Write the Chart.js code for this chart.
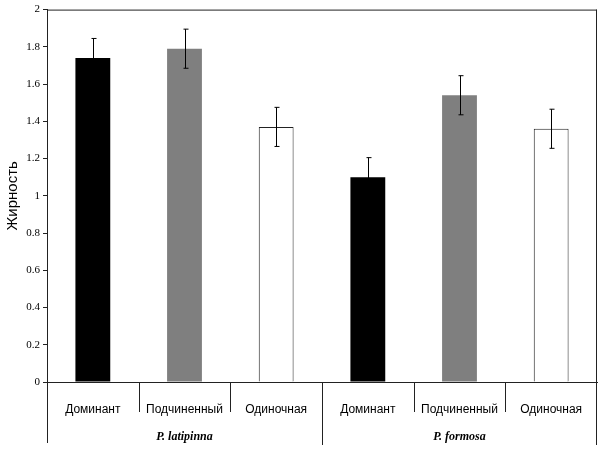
<!DOCTYPE html>
<html>
<head>
<meta charset="utf-8">
<script src="https://cdn.jsdelivr.net/npm/chart.js@4/dist/chart.umd.min.js"></script>
<style>
  html, body { margin: 0; padding: 0; background: #fff; }
  canvas { display: block; }
</style>
</head>
<body>
<canvas id="fatChart" width="600" height="449"></canvas>
<script>
// Data
const categories = ['Доминант', 'Подчиненный', 'Одиночная', 'Доминант', 'Подчиненный', 'Одиночная'];
const groups = ['P. latipinna', 'P. formosa'];
const fatValues = [1.74, 1.79, 1.37, 1.10, 1.54, 1.36];
const fatErrors = [0.105, 0.105, 0.105, 0.105, 0.105, 0.105];
const yTicks = [0, 0.2, 0.4, 0.6, 0.8, 1, 1.2, 1.4, 1.6, 1.8, 2];

const barColors = ['#000000', '#7f7f7f', '#ffffff', '#000000', '#7f7f7f', '#ffffff'];
const lineColor = '#222';

// Error bars, frame, category dividers and group labels
const extrasPlugin = {
  id: 'extras',
  afterDatasetsDraw(chart) {
    const ctx = chart.ctx;
    const x = chart.scales.x;
    const y = chart.scales.y;
    ctx.save();
    ctx.strokeStyle = '#000';
    ctx.lineWidth = 1;
    fatValues.forEach((v, i) => {
      const cx = Math.round(x.getPixelForValue(i)) + 0.5;
      const top = y.getPixelForValue(v + fatErrors[i]);
      const bot = y.getPixelForValue(v - fatErrors[i]);
      ctx.beginPath();
      ctx.moveTo(cx, top);
      ctx.lineTo(cx, bot);
      ctx.moveTo(cx - 2, top);
      ctx.lineTo(cx + 3, top);
      ctx.moveTo(cx - 2, bot);
      ctx.lineTo(cx + 3, bot);
      ctx.stroke();
    });
    ctx.restore();
  },
  afterDraw(chart) {
    const ctx = chart.ctx;
    const area = chart.chartArea;
    const step = (area.right - area.left) / categories.length;
    ctx.save();
    ctx.strokeStyle = lineColor;
    ctx.lineWidth = 1;
    ctx.beginPath();
    // frame top and right
    ctx.moveTo(area.left, area.top + 0.5);
    ctx.lineTo(area.right, area.top + 0.5);
    ctx.moveTo(area.right - 0.5, area.top);
    ctx.lineTo(area.right - 0.5, 445);
    // left axis extension
    ctx.moveTo(area.left + 0.5, area.bottom);
    ctx.lineTo(area.left + 0.5, 443);
    // category dividers
    for (let i = 1; i < categories.length; i++) {
      const dx = Math.round(area.left + step * i) + 0.5;
      ctx.moveTo(dx, area.bottom);
      ctx.lineTo(dx, i === 3 ? 445 : 412);
    }
    ctx.stroke();

    // group labels
    ctx.fillStyle = '#000';
    ctx.font = 'italic bold 12px "Liberation Serif", "Times New Roman", serif';
    ctx.textAlign = 'center';
    ctx.textBaseline = 'middle';
    groups.forEach((g, gi) => {
      const left = area.left + step * 3 * gi;
      ctx.fillText(g, left + step * 1.5, 437);
    });
    ctx.restore();
  }
};

new Chart(document.getElementById('fatChart'), {
  type: 'bar',
  data: {
    labels: categories,
    datasets: [{
      data: fatValues,
      backgroundColor: barColors,
      borderColor: lineColor,
      borderWidth: (c) => (barColors[c.dataIndex] === '#ffffff' ? 1 : 0),
      barPercentage: 0.38,
      categoryPercentage: 1
    }]
  },
  options: {
    responsive: false,
    animation: false,
    devicePixelRatio: 1,
    layout: { padding: { top: 8, right: 3, left: 0, bottom: 0 } },
    plugins: {
      legend: { display: false },
      tooltip: { enabled: false }
    },
    scales: {
      x: {
        grid: { display: false },
        border: { color: lineColor },
        ticks: {
          color: '#000',
          padding: 12,
          maxRotation: 0,
          autoSkip: false,
          font: { family: '"Liberation Sans", Arial, sans-serif', size: 12 }
        },
        afterFit: (s) => { s.height = 67; }
      },
      y: {
        min: 0,
        max: 2,
        afterBuildTicks: (s) => { s.ticks = yTicks.map(v => ({ value: v })); },
        grid: { drawOnChartArea: false, tickLength: 4, color: lineColor },
        border: { color: lineColor },
        ticks: {
          color: '#000',
          padding: 3,
          callback: (v) => String(+v.toFixed(1)),
          font: { family: '"Liberation Serif", "Times New Roman", serif', size: 11 }
        },
        title: {
          display: true,
          text: 'Жирность',
          color: '#000',
          padding: { top: 4, bottom: 0 },
          font: { family: '"Liberation Sans", Arial, sans-serif', size: 15 }
        },
        afterFit: (s) => { s.width = 47; }
      }
    }
  },
  plugins: [extrasPlugin]
});
</script>
</body>
</html>
